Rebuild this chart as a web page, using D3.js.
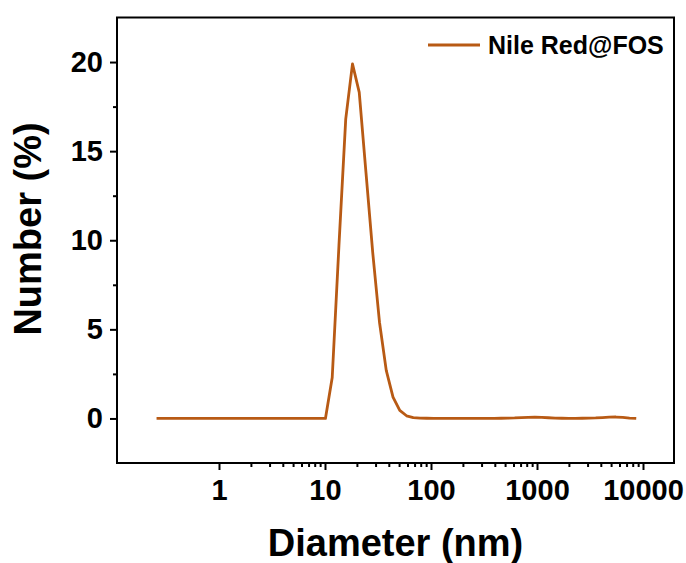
<!DOCTYPE html>
<html>
<head>
<meta charset="utf-8">
<script src="https://cdn.jsdelivr.net/npm/d3@7"></script>
<style>
    body { margin: 0; background: #fff; }
    svg { display: block; }
    text { font-family: "Liberation Sans", Arial, sans-serif; font-weight: bold; fill: #000; }
</style>
</head>
<body>
<div id="chart"></div>
<script>
// size bins (nm) and number distribution (%)
var diameters = [0.2576, 0.2983, 0.3454, 0.4, 0.4632, 0.5365, 0.6213, 0.7195, 0.8332, 0.9649,
    1.117, 1.294, 1.499, 1.736, 2.01, 2.328, 2.696, 3.122, 3.615, 4.187,
    4.849, 5.615, 6.503, 7.531, 8.721, 10.1, 11.7, 13.54, 15.69, 18.17,
    21.04, 24.36, 28.21, 32.67, 37.84, 43.82, 50.75, 58.77, 68.06, 78.82,
    91.28, 105.7, 122.4, 141.8, 164.2, 190.1, 220.2, 255, 295.3, 342,
    396.1, 458.7, 531.2, 615.1, 712.4, 825, 955.4, 1106, 1281, 1484,
    1718, 1990, 2305, 2669, 3091, 3580, 4145, 4801, 5560, 6439,
    7456, 8635];
var numberPct = [0, 0, 0, 0, 0, 0, 0, 0, 0, 0,
    0, 0, 0, 0, 0, 0, 0, 0, 0, 0,
    0, 0, 0, 0, 0, 0, 2.3, 9.7, 16.8, 19.9,
    18.3, 13.8, 9.3, 5.4, 2.7, 1.2, 0.45, 0.15, 0.05, 0.02,
    0.01, 0, 0, 0, 0, 0, 0, 0, 0, 0,
    0, 0.01, 0.02, 0.03, 0.05, 0.06, 0.07, 0.06, 0.04, 0.02,
    0.01, 0, 0, 0.01, 0.02, 0.03, 0.05, 0.07, 0.08, 0.06,
    0.02, 0];
var xTicks = [1, 10, 100, 1000, 10000];
var yTicks = [0, 5, 10, 15, 20];
var seriesName = "Nile Red@FOS";

var ctx = {
    w: 686, h: 563,
    left: 117, right: 674, top: 17.5, bottom: 463,
    color: "#B85A14"
};

var svgEl = d3.select("#chart").append("svg")
    .attr("width", ctx.w)
    .attr("height", ctx.h);

var x = d3.scaleLog()
    .domain([0.1091, 19610])
    .range([ctx.left, ctx.right]);
var y = d3.scaleLinear()
    .domain([-2.5, 22.5])
    .range([ctx.bottom, ctx.top]);

// minor ticks: 2..9 inside each decade, halves on y
var xMinor = [];
xTicks.slice(0, -1).forEach(function(t) {
    for (var k = 2; k <= 9; k++) xMinor.push(t * k);
});
var yMinor = yTicks.map((t) => t + 2.5).slice(0, -1);

var xAxis = svgEl.append("g")
    .attr("transform", "translate(0," + ctx.bottom + ")");
xAxis.call(d3.axisBottom(x).tickValues(xTicks).tickFormat(d3.format("d")).tickSize(7).tickPadding(9));
xAxis.append("g").call(d3.axisBottom(x).tickValues(xMinor).tickFormat("").tickSize(4));

var yAxis = svgEl.append("g")
    .attr("transform", "translate(" + ctx.left + ",0)");
yAxis.call(d3.axisLeft(y).tickValues(yTicks).tickSize(7).tickPadding(7));
yAxis.append("g").call(d3.axisLeft(y).tickValues(yMinor).tickFormat("").tickSize(4));

svgEl.selectAll(".domain").remove();
svgEl.selectAll(".tick line").attr("stroke", "#000").attr("stroke-width", 2);
svgEl.selectAll(".tick text").attr("font-size", "29px");

// frame
svgEl.append("rect")
    .attr("x", ctx.left)
    .attr("y", ctx.top)
    .attr("width", ctx.right - ctx.left)
    .attr("height", ctx.bottom - ctx.top)
    .attr("fill", "none")
    .attr("stroke", "#000")
    .attr("stroke-width", 2);

var line = d3.line()
    .x((d, i) => x(diameters[i]))
    .y((d) => y(d));

svgEl.append("path")
    .datum(numberPct)
    .attr("d", line)
    .attr("fill", "none")
    .attr("stroke", ctx.color)
    .attr("stroke-width", 2.8)
    .attr("stroke-linejoin", "round");

// legend
var legendG = svgEl.append("g")
    .attr("transform", "translate(428,45)");
legendG.append("line")
    .attr("x1", 0).attr("x2", 52)
    .attr("y1", 0).attr("y2", 0)
    .attr("stroke", ctx.color)
    .attr("stroke-width", 2.8);
legendG.append("text")
    .attr("x", 60)
    .attr("y", 9)
    .attr("font-size", "25px")
    .text(seriesName);

// axis titles
svgEl.append("text")
    .attr("x", (ctx.left + ctx.right) / 2)
    .attr("y", 556)
    .attr("text-anchor", "middle")
    .attr("font-size", "38px")
    .text("Diameter (nm)");

svgEl.append("text")
    .attr("transform", "translate(41," + 229 + ") rotate(-90)")
    .attr("text-anchor", "middle")
    .attr("font-size", "38px")
    .text("Number (%)");
</script>
</body>
</html>
